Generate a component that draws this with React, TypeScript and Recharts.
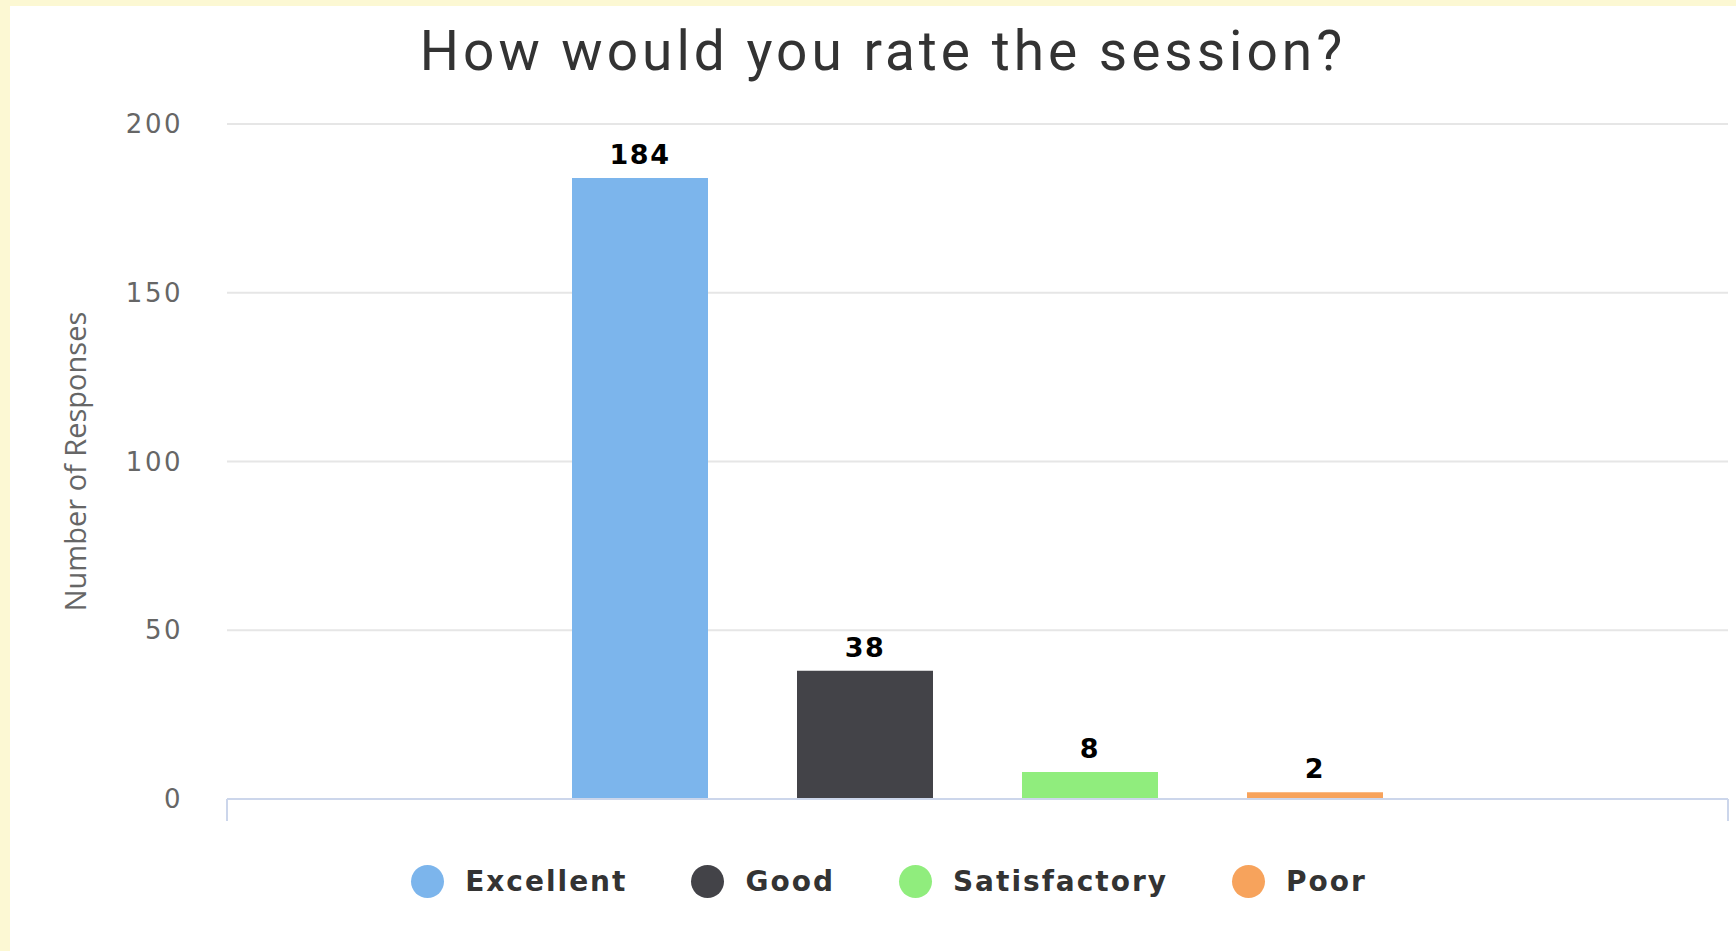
import { BarChart, Bar, XAxis, YAxis, CartesianGrid, Legend, LabelList } from 'recharts';

const ratings = ['Excellent', 'Good', 'Satisfactory', 'Poor'];
const responses = [184, 38, 8, 2];
const colors = ['#7cb5ec', '#434348', '#90ed7d', '#f7a35c'];
const yTicks = [0, 50, 100, 150, 200];

// one category, one series per rating (grouped like the original)
const row: { [key: string]: string | number } = { name: 'Rating' };
ratings.forEach((r, i) => {
    row[r] = responses[i];
});
const data = [row];

function LegendContent() {
    return (
        <div style={{ display: 'flex', justifyContent: 'center', alignItems: 'center' }}>
            {ratings.map((r, i) => (
                <div key={r} style={{ display: 'flex', alignItems: 'center', marginLeft: i === 0 ? 0 : 64 }}>
                    <div
                        style={{
                            width: 33,
                            height: 33,
                            borderRadius: '50%',
                            background: colors[i],
                            marginRight: 21,
                        }}
                    />
                    <span
                        style={{
                            fontFamily: '"DejaVu Sans", sans-serif',
                            fontWeight: 'bold',
                            fontSize: 28,
                            letterSpacing: 2,
                            color: '#333333',
                            lineHeight: '33px',
                        }}
                    >
                        {r}
                    </span>
                </div>
            ))}
        </div>
    );
}

function YLabel(props: any) {
    const { viewBox } = props;
    const cy = viewBox.y + viewBox.height / 2;
    return (
        <text
            transform={`translate(86, ${cy}) rotate(-90)`}
            textAnchor="middle"
            fill="#666666"
            style={{ fontFamily: '"Open Sans", sans-serif', fontSize: 29 }}
        >
            Number of Responses
        </text>
    );
}

// tick marks on the category boundaries (both edges of the single band), no text
function EdgeTicks(props: any) {
    const { x, y, payload } = props;
    const half = payload && payload.offset ? payload.offset : 0;
    return (
        <g>
            <line x1={x - half} x2={x - half} y1={y} y2={y + 22} stroke="#ccd6eb" strokeWidth={2} />
            <line x1={x + half} x2={x + half} y1={y} y2={y + 22} stroke="#ccd6eb" strokeWidth={2} />
        </g>
    );
}

export default function App() {
    return (
        <div style={{ position: 'absolute', top: 0, left: 0, width: 1736, height: 951, background: '#fcf8d3', overflow: 'hidden' }}>
            <div style={{ position: 'absolute', left: 10, top: 6, right: 0, bottom: 0, background: '#ffffff' }} />
            <div
                style={{
                    position: 'absolute',
                    left: 83,
                    top: 24,
                    width: 1600,
                    textAlign: 'center',
                    fontFamily: 'Roboto, sans-serif',
                    fontSize: 55,
                    lineHeight: 1,
                    letterSpacing: 4,
                    color: '#333333',
                }}
            >
                How would you rate the session?
            </div>
            <div style={{ position: 'absolute', left: 0, top: 0 }}>
                <BarChart
                    width={1736}
                    height={951}
                    data={data}
                    margin={{ top: 124, right: 8, bottom: 130, left: 60 }}
                    barSize={136}
                    barGap={89}
                >
                    <CartesianGrid vertical={false} stroke="#e6e6e6" strokeWidth={2} />
                    <XAxis
                        dataKey="name"
                        height={22}
                        interval={0}
                        tickLine={false}
                        tickSize={0}
                        tickMargin={0}
                        tick={<EdgeTicks />}
                        axisLine={{ stroke: '#ccd6eb', strokeWidth: 2 }}
                    />
                    <YAxis
                        width={167}
                        domain={[0, 200]}
                        ticks={yTicks}
                        interval={0}
                        axisLine={false}
                        tickLine={false}
                        tickSize={0}
                        tickMargin={44}
                        tick={{
                            fill: '#666666',
                            fontSize: 26,
                            fontFamily: '"DejaVu Sans", sans-serif',
                            letterSpacing: 2.5,
                        }}
                        label={<YLabel />}
                    />
                    <Legend
                        layout="horizontal"
                        verticalAlign="middle"
                        align="center"
                        content={<LegendContent />}
                        wrapperStyle={{ left: 189, top: 865, width: 1400 }}
                    />
                    {ratings.map((r, i) => (
                        <Bar key={r} dataKey={r} fill={colors[i]} isAnimationActive={false}>
                            <LabelList
                                dataKey={r}
                                position="top"
                                offset={14}
                                fill="#000000"
                                style={{
                                    fontFamily: '"DejaVu Sans", sans-serif',
                                    fontWeight: 'bold',
                                    fontSize: 27,
                                    letterSpacing: 1.5,
                                }}
                            />
                        </Bar>
                    ))}
                </BarChart>
            </div>
        </div>
    );
}
